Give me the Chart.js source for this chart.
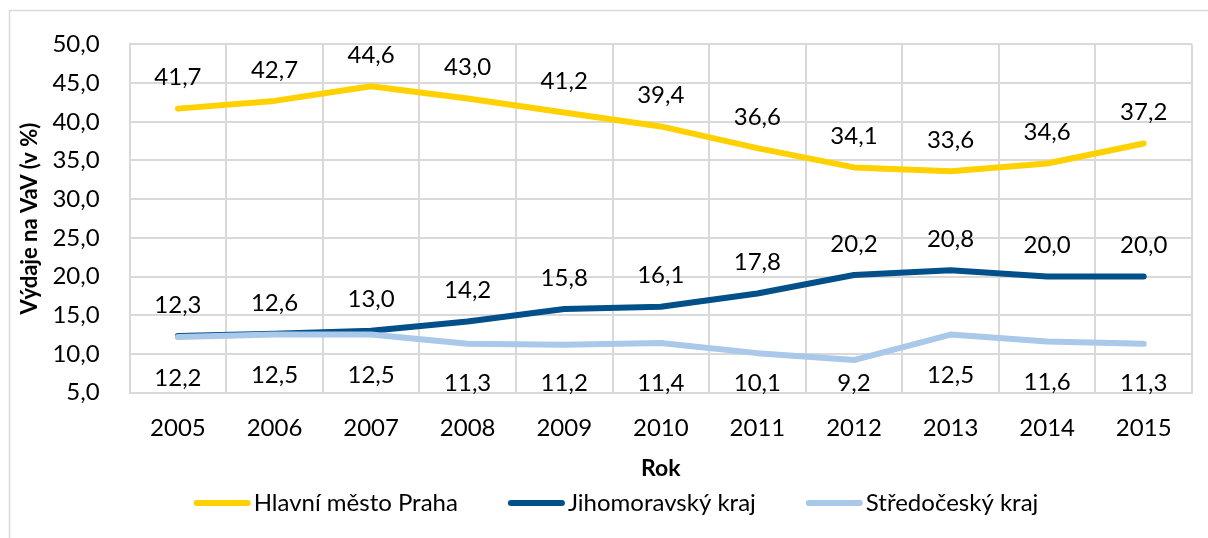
<!DOCTYPE html>
<html>
<head>
<meta charset="utf-8">
<script src="https://cdn.jsdelivr.net/npm/chart.js@4"></script>
<style>
html,body{margin:0;padding:0;background:#fff;}
#wrap{width:1208px;height:538px;position:relative;}
</style>
</head>
<body>
<div id="wrap"><canvas id="c" width="1208" height="538"></canvas></div>
<script>
const categories = ['2005','2006','2007','2008','2009','2010','2011','2012','2013','2014','2015'];
const praha = [41.7, 42.7, 44.6, 43.0, 41.2, 39.4, 36.6, 34.1, 33.6, 34.6, 37.2];
const jihomoravsky = [12.3, 12.6, 13.0, 14.2, 15.8, 16.1, 17.8, 20.2, 20.8, 20.0, 20.0];
const stredocesky = [12.2, 12.5, 12.5, 11.3, 11.2, 11.4, 10.1, 9.2, 12.5, 11.6, 11.3];
const seriesNames = ['Hlavní město Praha', 'Jihomoravský kraj', 'Středočeský kraj'];
const yTickLabels = ['5,0','10,0','15,0','20,0','25,0','30,0','35,0','40,0','45,0','50,0'];

const FONT = 'Lato, "Open Sans", sans-serif';
const fmt = v => v.toFixed(1).replace('.', ',');

const borderPlugin = {
  id: 'outerBorder',
  beforeDraw(chart) {
    const ctx = chart.ctx;
    ctx.save();
    ctx.fillStyle = '#fff';
    ctx.fillRect(0, 0, chart.width, chart.height);
    ctx.strokeStyle = '#d9d9d9';
    ctx.lineWidth = 1.5;
    ctx.strokeRect(9.5, 10.5, 1400, 700);
    ctx.restore();
  }
};

const labelPlugin = {
  id: 'pointLabels',
  afterDatasetsDraw(chart) {
    const ctx = chart.ctx;
    const area = chart.chartArea;
    ctx.save();
    ctx.font = '24px ' + FONT;
    ctx.fillStyle = '#000';
    ctx.textAlign = 'center';
    ctx.textBaseline = 'middle';
    chart.data.datasets.forEach((ds, di) => {
      const meta = chart.getDatasetMeta(di);
      meta.data.forEach((pt, i) => {
        let y;
        if (ds.labelPos === 'below') {
          y = Math.min(pt.y + 41, area.bottom - 9);
        } else {
          y = pt.y - 31;
        }
        ctx.fillText(fmt(ds.data[i]), pt.x, y);
      });
    });
    ctx.restore();
  }
};

const legendPlugin = {
  id: 'customLegend',
  afterDraw(chart) {
    const ctx = chart.ctx;
    ctx.save();
    ctx.font = '24px ' + FONT;
    const lineLen = 57, gapText = 3, gapItem = 50, cy = 503, centerX = 616;
    const items = chart.data.datasets.map(ds => ({
      text: ds.label, color: ds.borderColor, w: ctx.measureText(ds.label).width
    }));
    const total = items.reduce((s, it) => s + lineLen + gapText + it.w, 0) + gapItem * (items.length - 1);
    let x = centerX - total / 2;
    items.forEach(it => {
      ctx.strokeStyle = it.color;
      ctx.lineWidth = 6;
      ctx.lineCap = 'round';
      ctx.beginPath();
      ctx.moveTo(x + 3, cy);
      ctx.lineTo(x + lineLen - 3, cy);
      ctx.stroke();
      ctx.fillStyle = '#000';
      ctx.textAlign = 'left';
      ctx.textBaseline = 'middle';
      ctx.fillText(it.text, x + lineLen + gapText, cy);
      x += lineLen + gapText + it.w + gapItem;
    });
    ctx.restore();
  }
};

const common = {
  borderWidth: 6,
  pointRadius: 0,
  pointHoverRadius: 0,
  tension: 0,
  borderCapStyle: 'round',
  borderJoinStyle: 'round',
  fill: false
};

new Chart(document.getElementById('c'), {
  type: 'line',
  data: {
    labels: categories,
    datasets: [
      Object.assign({label: seriesNames[0], data: praha, borderColor: '#FFD100', backgroundColor: '#FFD100', order: 2, labelPos: 'above'}, common),
      Object.assign({label: seriesNames[1], data: jihomoravsky, borderColor: '#02508A', backgroundColor: '#02508A', order: 1, labelPos: 'above'}, common),
      Object.assign({label: seriesNames[2], data: stredocesky, borderColor: '#A9C8EA', backgroundColor: '#A9C8EA', order: 0, labelPos: 'below'}, common)
    ]
  },
  options: {
    responsive: false,
    animation: false,
    devicePixelRatio: 1,
    layout: {padding: {left: 16, right: 16, top: 40, bottom: 56}},
    plugins: {
      tooltip: {enabled: false},
      legend: {display: false}
    },
    scales: {
      x: {
        offset: true,
        grid: {color: '#d9d9d9', lineWidth: 2, offset: true, drawTicks: false},
        border: {color: '#d9d9d9', width: 2},
        ticks: {font: {family: FONT, size: 24}, color: '#000', padding: 21, maxRotation: 0},
        title: {display: true, text: 'Rok', font: {family: FONT, size: 23, weight: 'bold'}, color: '#000', padding: {top: -9, bottom: 0}}
      },
      y: {
        min: 5, max: 50,
        grid: {color: '#d9d9d9', lineWidth: 2, drawTicks: false},
        border: {color: '#d9d9d9', width: 2},
        ticks: {
          stepSize: 5,
          font: {family: FONT, size: 24}, color: '#000', padding: 30,
          callback: (v, i) => yTickLabels[i]
        },
        title: {display: true, text: 'Výdaje na VaV (v %)', font: {family: FONT, size: 22, weight: 'bold'}, color: '#000', padding: {top: 1, bottom: -21}}
      }
    }
  },
  plugins: [borderPlugin, labelPlugin, legendPlugin]
});
</script>
</body>
</html>
